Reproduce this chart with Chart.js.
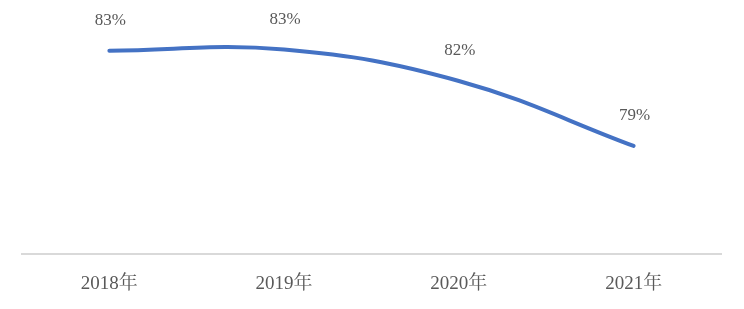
<!DOCTYPE html>
<html>
<head>
<meta charset="utf-8">
<script src="https://cdn.jsdelivr.net/npm/chart.js@4/dist/chart.umd.min.js"></script>
<style>
html,body{margin:0;padding:0;background:#fff;}
#wrap{width:744px;height:309px;position:relative;}
</style>
</head>
<body>
<div id="wrap"><canvas id="c" width="744" height="309"></canvas></div>
<script>
const categories = ["2018年", "2019年", "2020年", "2021年"];
const rates = [83.4, 83.45, 82.0, 79.0];

const FONT = '"Liberation Serif", "Noto Serif CJK SC", "Noto Sans CJK SC", serif';

const labelPlugin = {
  id: 'pointLabels',
  afterDatasetsDraw(chart) {
    const ctx = chart.ctx;
    const meta = chart.getDatasetMeta(0);
    ctx.save();
    ctx.font = '17px ' + FONT;
    ctx.fillStyle = '#595959';
    ctx.textAlign = 'center';
    ctx.textBaseline = 'middle';
    meta.data.forEach((pt, i) => {
      ctx.fillText(Math.round(rates[i]) + '%', pt.x + 1, pt.y - 30);
    });
    ctx.restore();
  }
};

new Chart(document.getElementById('c'), {
  type: 'line',
  data: {
    labels: categories,
    datasets: [{
      data: rates,
      borderColor: '#4472C4',
      borderWidth: 4,
      borderCapStyle: 'round',
      borderJoinStyle: 'round',
      tension: 0.4,
      cubicInterpolationMode: 'default',
      pointRadius: 0,
      fill: false
    }]
  },
  options: {
    responsive: false,
    animation: false,
    layout: { padding: { left: 22, right: 23, top: 16, bottom: 4 } },
    plugins: { legend: { display: false }, tooltip: { enabled: false } },
    scales: {
      x: {
        offset: true,
        grid: { display: false },
        border: { display: true, color: '#d9d9d9', width: 2 },
        ticks: { color: '#595959', font: { family: FONT, size: 19 }, padding: 10, maxRotation: 0 }
      },
      y: {
        display: false,
        min: 74,
        max: 85
      }
    }
  },
  plugins: [labelPlugin]
});
</script>
</body>
</html>
